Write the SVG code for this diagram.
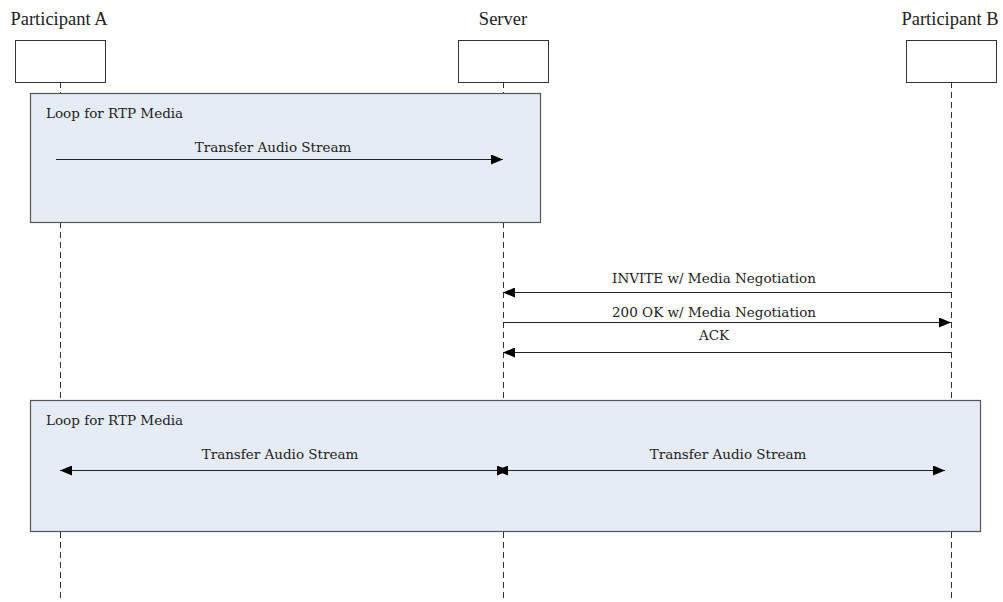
<svg xmlns="http://www.w3.org/2000/svg" width="1003" height="602" viewBox="0 0 1003 602">
<style>
.hdr{font-family:"Liberation Serif",serif;font-size:18.5px;fill:#222;text-anchor:middle}
.box{fill:#fff;stroke:#333;stroke-width:1}
.life{stroke:#333;stroke-width:1;stroke-dasharray:6,4;fill:none}
.loop{fill:#e6ecf6;stroke:#555;stroke-width:1.2}
.lbl{font-family:"DejaVu Serif","Liberation Serif",serif;font-size:13.5px;fill:#222}
.mid{text-anchor:middle}
.msg{stroke:#222;stroke-width:1.2;fill:none}
</style>
<defs>
<marker id="ah" viewBox="0 0 12 10" refX="12" refY="5" markerWidth="12" markerHeight="10" markerUnits="userSpaceOnUse" orient="auto-start-reverse">
<path d="M0,0 L12,5 L0,10 Z" fill="#000"/>
</marker>
</defs>
<g id="lifelines">
<line class="life" x1="60.5" y1="82" x2="60.5" y2="602"/>
<line class="life" x1="503.5" y1="82" x2="503.5" y2="602"/>
<line class="life" x1="951.5" y1="82" x2="951.5" y2="602"/>
</g>
<g id="participantA">
<text class="hdr" x="59" y="25">Participant A</text>
<rect class="box" x="15.5" y="40.5" width="90" height="42"/>
</g>
<g id="server">
<text class="hdr" x="503" y="25">Server</text>
<rect class="box" x="458.5" y="40.5" width="90" height="42"/>
</g>
<g id="participantB">
<text class="hdr" x="950" y="25">Participant B</text>
<rect class="box" x="906.5" y="40.5" width="90" height="42"/>
</g>
<g id="loop1">
<rect class="loop" x="30.5" y="93.5" width="510" height="129"/>
<text class="lbl" x="46" y="118">Loop for RTP Media</text>
</g>
<g id="loop2">
<rect class="loop" x="30.5" y="400.5" width="950" height="131"/>
<text class="lbl" x="46" y="425">Loop for RTP Media</text>
</g>
<g id="connectors">
<line class="msg" x1="56" y1="159.5" x2="503" y2="159.5" marker-end="url(#ah)"/>
<text class="lbl mid" x="273" y="152">Transfer Audio Stream</text>
<line class="msg" x1="951" y1="292.5" x2="503" y2="292.5" marker-end="url(#ah)"/>
<text class="lbl mid" x="714" y="283">INVITE w/ Media Negotiation</text>
<line class="msg" x1="503" y1="322.5" x2="951" y2="322.5" marker-end="url(#ah)"/>
<text class="lbl mid" x="714" y="317">200 OK w/ Media Negotiation</text>
<line class="msg" x1="951" y1="352.5" x2="503" y2="352.5" marker-end="url(#ah)"/>
<text class="lbl mid" x="714" y="340">ACK</text>
<line class="msg" x1="60" y1="470.5" x2="509" y2="470.5" marker-start="url(#ah)" marker-end="url(#ah)"/>
<text class="lbl mid" x="280" y="459">Transfer Audio Stream</text>
<line class="msg" x1="496" y1="470.5" x2="945" y2="470.5" marker-start="url(#ah)" marker-end="url(#ah)"/>
<text class="lbl mid" x="728" y="459">Transfer Audio Stream</text>
</g>
</svg>
